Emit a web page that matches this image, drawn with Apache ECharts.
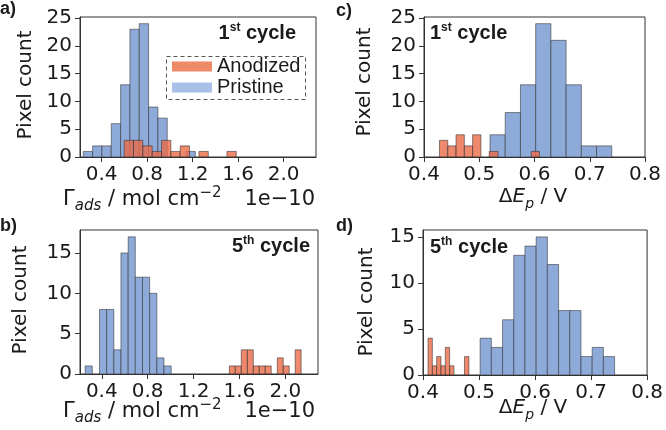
<!DOCTYPE html>
<html><head><meta charset="utf-8">
<script src="https://cdn.jsdelivr.net/npm/echarts@6/dist/echarts.min.js"></script>
<style>html,body{margin:0;padding:0;background:#fff}#c{width:666px;height:430px}</style>
</head><body><div id="c"></div>
<script>
// ---- Panel a: Γads, 1st cycle ----
const aPristineEdges = [0.239,0.321,0.403,0.485,0.567,0.649,0.731,0.813,0.895,0.977,1.060,1.142,1.224];
const aPristineCounts = [1,2,2,6,13,23,24,9,7,0,0,1];
const aAnodizedEdges = [0.598,0.680,0.762,0.845,0.927,1.009,1.091,1.173,1.256,1.338,1.420,1.502,1.584];
const aAnodizedCounts = [3,3,2,1,3,1,2,0,1,0,0,1];
// ---- Panel b: Γads, 5th cycle ----
const bPristineEdges = [0.255,0.317,0.380,0.442,0.505,0.567,0.630,0.692,0.755,0.817,0.880,0.942,1.005];
const bPristineCounts = [1,0,8,8,3,15,17,12,12,10,2,1];
const bAnodizedEdges = [1.512,1.564,1.616,1.669,1.721,1.773,1.825,1.877,1.930,1.982,2.034,2.086,2.138];
const bAnodizedCounts = [1,1,3,3,1,1,1,0,2,1,0,3];
// ---- Panel c: ΔEp, 1st cycle ----
const cPristineEdges = [0.5195,0.547,0.5746,0.6021,0.6297,0.6572,0.6848,0.7123,0.7398];
const cPristineCounts = [4,8,13,24,21,13,2,2];
const cAnodizedEdges = [0.428,0.443,0.458,0.473,0.488,0.503,0.518,0.534,0.549,0.564,0.579,0.594,0.609];
const cAnodizedCounts = [3,2,4,2,4,0,1,0,0,0,0,1];
// ---- Panel d: ΔEp, 5th cycle ----
const dPristineEdges = [0.502,0.522,0.542,0.562,0.582,0.602,0.622,0.642,0.662,0.682,0.702,0.722,0.742];
const dPristineCounts = [4,3,6,13,14,15,12,7,7,2,3,2];
const dAnodizedEdges = [0.409,0.4167,0.4244,0.4321,0.4398,0.4475,0.4552,0.474,0.482];
const dAnodizedCounts = [4,1,2,1,3,1,0,2];

// tick labels
const gammaTicks = [0.4,0.8,1.2,1.6,2.0];
const deltaTicks = [0.4,0.5,0.6,0.7,0.8];
const countTicksTop = [0,5,10,15,20,25];
const countTicksBottom = [0,5,10,15];
const seriesNames = ['Anodized','Pristine'];
const panelLabels = ['a)','b)','c)','d)'];

const BLUE = '#8eaad9';
const RED = 'rgba(234,108,72,0.8)';
const EDGE = 'rgba(45,45,45,0.55)';
const TXT = '#1a1a1a';
const AX = '#333';
const DJ = 'DejaVu Sans';
const AR = 'Liberation Sans';

function toBins(edges, counts){
  return counts.map((c,i)=>[edges[i],edges[i+1],c]).filter(d=>d[2]>0);
}
function renderHist(color){
  return function(params, api){
    const p0 = api.coord([api.value(0), 0]);
    const p1 = api.coord([api.value(1), api.value(2)]);
    return {type:'rect', shape:{x:p0[0], y:p1[1], width:p1[0]-p0[0], height:p0[1]-p1[1]},
            style:{fill:color, stroke:EDGE, lineWidth:1}};
  };
}

const grids = [
  {left:80, top:17, width:236, height:140},
  {left:80, top:230, width:238, height:144},
  {left:424, top:17, width:221, height:140},
  {left:423, top:230, width:226, height:145}
];
const xr = [[0.21,2.285,gammaTicks],[0.21,2.285,gammaTicks],[0.4,0.8,deltaTicks],[0.4,0.8,deltaTicks]];
const yr = [[25.2,countTicksTop],[17.85,countTicksBottom],[25.2,countTicksTop],[15.75,countTicksBottom]];

const xAxes = xr.map((r,i)=>({
  type:'value', gridIndex:i, min:r[0], max:r[1],
  axisLine:{show:true, onZero:false, lineStyle:{color:AX, width:1}},
  axisTick:{show:true, length:5, lineStyle:{color:AX}, customValues:r[2]},
  axisLabel:{customValues:r[2], formatter:v=>v.toFixed(1), fontFamily:DJ, fontSize:20, color:TXT, margin:8},
  splitLine:{show:false}
}));
const yAxes = yr.map((r,i)=>({
  type:'value', gridIndex:i, min:0, max:r[0],
  axisLine:{show:true, lineStyle:{color:AX, width:1}},
  axisTick:{show:true, length:5, lineStyle:{color:AX}, customValues:r[1]},
  axisLabel:{customValues:r[1], formatter:v=>String(v), fontFamily:DJ, fontSize:20, color:TXT, margin:8},
  splitLine:{show:false}
}));

const panels = [
  [aPristineEdges,aPristineCounts,aAnodizedEdges,aAnodizedCounts],
  [bPristineEdges,bPristineCounts,bAnodizedEdges,bAnodizedCounts],
  [cPristineEdges,cPristineCounts,cAnodizedEdges,cAnodizedCounts],
  [dPristineEdges,dPristineCounts,dAnodizedEdges,dAnodizedCounts]
];
const series = [];
panels.forEach((p,i)=>{
  series.push({type:'custom', name:seriesNames[1], xAxisIndex:i, yAxisIndex:i,
    itemStyle:{color:BLUE}, renderItem:renderHist(BLUE), encode:{x:[0,1], y:2}, data:toBins(p[0],p[1]), z:2});
  series.push({type:'custom', name:seriesNames[0], xAxisIndex:i, yAxisIndex:i,
    itemStyle:{color:RED}, renderItem:renderHist(RED), encode:{x:[0,1], y:2}, data:toBins(p[2],p[3]), z:3});
});

const richGamma = {
  m:{fontFamily:DJ, fontSize:21, lineHeight:28, fill:TXT},
  sub:{fontFamily:DJ, fontStyle:'italic', fontSize:15, lineHeight:18, verticalAlign:'bottom', fill:TXT},
  sup:{fontFamily:DJ, fontSize:15, lineHeight:10, verticalAlign:'top', fill:TXT}
};
const richDelta = {
  m:{fontFamily:DJ, fontSize:20, lineHeight:28, fill:TXT},
  it:{fontFamily:DJ, fontStyle:'italic', fontSize:20, lineHeight:28, fill:TXT},
  sub:{fontFamily:DJ, fontStyle:'italic', fontSize:14, lineHeight:18, verticalAlign:'bottom', fill:TXT}
};
const richCycle = {
  b:{fontFamily:AR, fontWeight:'bold', fontSize:20, lineHeight:22, fill:TXT},
  sup:{fontFamily:AR, fontWeight:'bold', fontSize:12, lineHeight:12, verticalAlign:'top', fill:TXT}
};
function txt(x,y,text,extra){
  return Object.assign({type:'text', x:x, y:y, silent:true, style:Object.assign({text:text, fill:TXT}, extra)});
}
const graphic = [
  // panel labels
  txt(0,9,panelLabels[0],{font:'bold 18px "Liberation Sans"', align:'left', verticalAlign:'middle'}),
  txt(0,226,panelLabels[1],{font:'bold 18px "Liberation Sans"', align:'left', verticalAlign:'middle'}),
  txt(336,11,panelLabels[2],{font:'bold 18px "Liberation Sans"', align:'left', verticalAlign:'middle'}),
  txt(336,226,panelLabels[3],{font:'bold 18px "Liberation Sans"', align:'left', verticalAlign:'middle'}),
  // y labels
  Object.assign(txt(26,85,'Pixel count',{font:'20px "DejaVu Sans"', align:'center', verticalAlign:'middle'}),{rotation:Math.PI/2}),
  Object.assign(txt(21,300,'Pixel count',{font:'20px "DejaVu Sans"', align:'center', verticalAlign:'middle'}),{rotation:Math.PI/2}),
  Object.assign(txt(365,82,'Pixel count',{font:'20px "DejaVu Sans"', align:'center', verticalAlign:'middle'}),{rotation:Math.PI/2}),
  Object.assign(txt(367,302,'Pixel count',{font:'20px "DejaVu Sans"', align:'center', verticalAlign:'middle'}),{rotation:Math.PI/2}),
  // x labels
  txt(63,200,'{m|Γ}{sub|ads}{m| / mol cm}{sup|−2}',{align:'left', verticalAlign:'middle', rich:richGamma}),
  txt(315,200,'1e−10',{font:'21px "DejaVu Sans"', align:'right', verticalAlign:'middle'}),
  txt(63,412,'{m|Γ}{sub|ads}{m| / mol cm}{sup|−2}',{align:'left', verticalAlign:'middle', rich:richGamma}),
  txt(315,412,'1e−10',{font:'21px "DejaVu Sans"', align:'right', verticalAlign:'middle'}),
  txt(533,197,'{m|Δ}{it|E}{sub|p}{m| / V}',{align:'center', verticalAlign:'middle', rich:richDelta}),
  txt(533,408,'{m|Δ}{it|E}{sub|p}{m| / V}',{align:'center', verticalAlign:'middle', rich:richDelta}),
  // cycle annotations
  txt(296,33,'{b|1}{sup|st}{b| cycle}',{align:'right', verticalAlign:'middle', rich:richCycle}),
  txt(310,246,'{b|5}{sup|th}{b| cycle}',{align:'right', verticalAlign:'middle', rich:richCycle}),
  txt(430,33,'{b|1}{sup|st}{b| cycle}',{align:'left', verticalAlign:'middle', rich:richCycle}),
  txt(430,247,'{b|5}{sup|th}{b| cycle}',{align:'left', verticalAlign:'middle', rich:richCycle}),
  // legend frame
  {type:'rect', silent:true, z:1, shape:{x:166.5, y:56.5, width:139, height:43},
   style:{fill:'rgba(255,255,255,0.8)', stroke:'#555', lineWidth:1, lineDash:[4,3]}}
];

const chart = echarts.init(document.getElementById('c'), null, {renderer:'canvas'});
chart.setOption({
  animation:false,
  backgroundColor:'#fff',
  grid: grids.map(g=>Object.assign({show:true, borderColor:AX, borderWidth:1, backgroundColor:'transparent'}, g)),
  xAxis:xAxes, yAxis:yAxes,
  legend:{
    left:172, top:56.5, orient:'vertical', itemGap:1, padding:0,
    itemWidth:40, itemHeight:10, icon:'rect', z:10,
    textStyle:{fontFamily:AR, fontSize:20, color:TXT},
    itemStyle:{borderWidth:0},
    data:[{name:seriesNames[0], itemStyle:{color:'#ee8a66', borderWidth:0}},
          {name:seriesNames[1], itemStyle:{color:'#a8c0e8', borderWidth:0}}]
  },
  graphic:graphic,
  series:series
});
</script></body></html>
